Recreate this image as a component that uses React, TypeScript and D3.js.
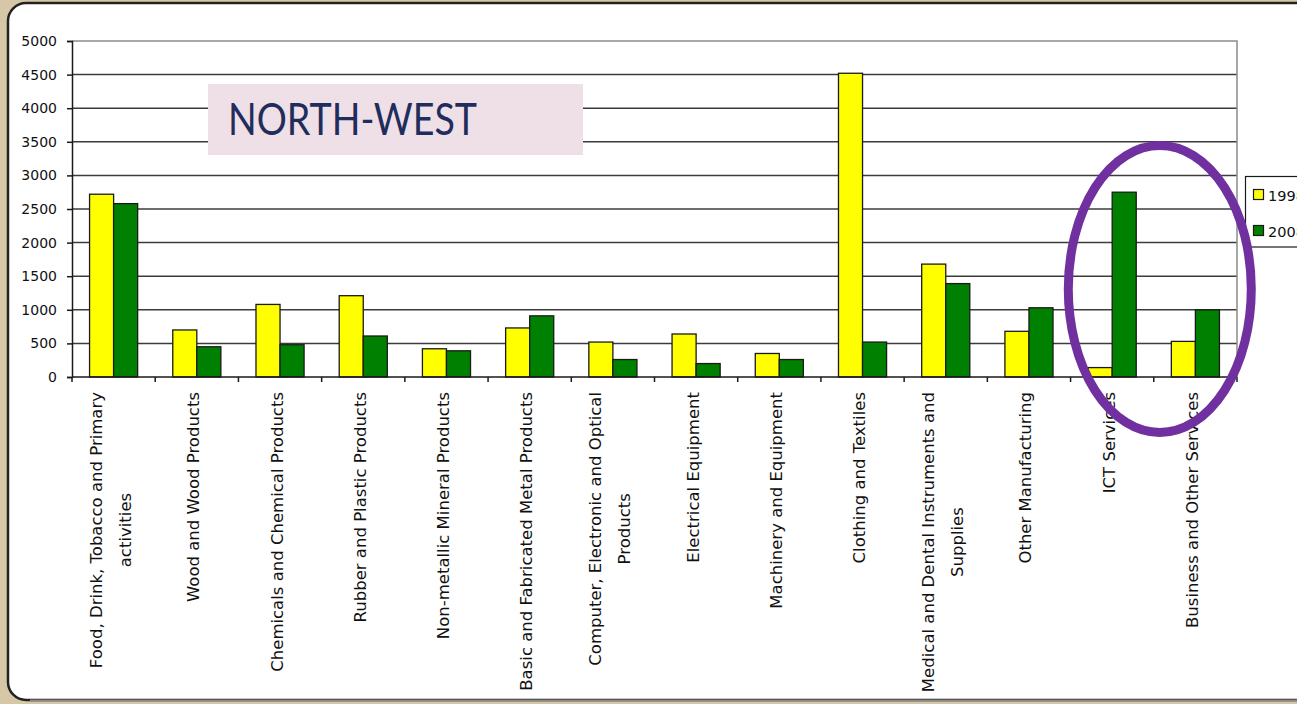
import React, { useEffect, useRef } from "react";
import * as d3 from "d3";

// values
const categories = [
  ["Food, Drink, Tobacco and Primary", "activities"],
  ["Wood and Wood Products"],
  ["Chemicals and Chemical Products"],
  ["Rubber and Plastic Products"],
  ["Non-metallic Mineral Products"],
  ["Basic and Fabricated Metal Products"],
  ["Computer, Electronic and Optical", "Products"],
  ["Electrical Equipment"],
  ["Machinery and Equipment"],
  ["Clothing and Textiles"],
  ["Medical and Dental Instruments and", "Supplies"],
  ["Other Manufacturing"],
  ["ICT Services"],
  ["Business and Other Services"],
];
const series = ["1998", "2008"];
const seriesColors = ["#ffff00", "#008000"];
const values1998 = [2720, 700, 1080, 1210, 420, 730, 520, 640, 350, 4520, 1680, 680, 140, 530];
const values2008 = [2580, 450, 480, 610, 390, 910, 260, 200, 260, 520, 1390, 1030, 2750, 1000];
const yTicks = [0, 500, 1000, 1500, 2000, 2500, 3000, 3500, 4000, 4500, 5000];
const title = "NORTH-WEST";

const W = 1297, H = 704;

export default function App() {
  const ref = useRef<SVGSVGElement>(null);

  useEffect(() => {
    const svg = d3.select(ref.current);
    svg.selectAll("*").remove();

    const left = 72, right = 1237, top = 41, bottom = 377;
    const keys = categories.map((c, i) => String(i));
    const labelSize = 16.5;

    // frame
    svg.append("rect").attr("width", W).attr("height", H).attr("fill", "#d6c8a6");
    svg.append("rect")
      .attr("x", 8).attr("y", 3).attr("width", W + 40).attr("height", 697)
      .attr("rx", 18).attr("fill", "#ffffff")
      .attr("stroke", "#222").attr("stroke-width", 2.5);
    svg.append("line").attr("x1", 30).attr("x2", W).attr("y1", 700.5).attr("y2", 700.5)
      .attr("stroke", "#8a8a8a").attr("stroke-width", 2);

    const x = d3.scaleBand().domain(keys).range([left, right]).padding(0);
    const x1 = d3.scaleBand().domain(series).range([0, x.bandwidth()]).paddingInner(0).paddingOuter(0.73);
    const y = d3.scaleLinear().domain([0, 5000]).range([bottom, top]);

    // gridlines
    svg.append("g").selectAll("line").data(yTicks.filter(t => t > 0 && t < 5000)).join("line")
      .attr("x1", left).attr("x2", right)
      .attr("y1", d => y(d)).attr("y2", d => y(d))
      .attr("stroke", "#3c3c3c").attr("stroke-width", 1.5);

    // plot border (top and right)
    svg.append("path")
      .attr("d", `M${left},${top}H${right}V${bottom}`)
      .attr("fill", "none").attr("stroke", "#8c8c8c").attr("stroke-width", 1.5);

    // bars
    const data = [values1998, values2008];
    const g = svg.append("g");
    keys.forEach((k, i) => {
      series.forEach((s, j) => {
        const v = data[j][i];
        g.append("rect")
          .attr("x", x(k)! + x1(s)!)
          .attr("y", y(v))
          .attr("width", x1.bandwidth())
          .attr("height", y(0) - y(v))
          .attr("fill", seriesColors[j])
          .attr("stroke", "#1a1a1a").attr("stroke-width", 1.3);
      });
    });

    // y axis
    const yAxis = svg.append("g").attr("transform", `translate(${left},0)`)
      .call(d3.axisLeft(y).tickValues(yTicks).tickSize(5).tickPadding(10).tickFormat(d3.format("d")));
    yAxis.select(".domain").attr("stroke", "#1a1a1a").attr("stroke-width", 1.5);
    yAxis.selectAll(".tick line").attr("stroke", "#1a1a1a").attr("stroke-width", 1.5);
    yAxis.selectAll(".tick text").attr("font-family", "DejaVu Sans").attr("font-size", 14).attr("fill", "#111");

    // x axis
    const xAxis = svg.append("g").attr("transform", `translate(0,${bottom})`);
    xAxis.append("line").attr("x1", left).attr("x2", right).attr("stroke", "#1a1a1a").attr("stroke-width", 1.5);
    xAxis.selectAll("line.tk").data(d3.range(keys.length + 1)).join("line").attr("class", "tk")
      .attr("x1", i => left + i * x.step()).attr("x2", i => left + i * x.step())
      .attr("y1", 0).attr("y2", 5)
      .attr("stroke", "#1a1a1a").attr("stroke-width", 1.5);

    // rotated category labels, lines centred on the longest (first) one
    keys.forEach((k, i) => {
      const lines = categories[i];
      const cx = x(k)! + x.bandwidth() / 2;
      const n = lines.length;
      const t = svg.append("text")
        .attr("font-family", "DejaVu Sans").attr("font-size", labelSize).attr("fill", "#111")
        .attr("text-anchor", "middle").attr("transform", "rotate(-90)");
      const probe = svg.append("text").attr("font-family", "DejaVu Sans").attr("font-size", labelSize).text(lines[0]);
      const len = (probe.node() as SVGTextElement).getComputedTextLength();
      probe.remove();
      const midY = 392 + len / 2;
      lines.forEach((ln, li) => {
        t.append("tspan")
          .attr("x", -midY)
          .attr("y", cx + 2.5 + (li - (n - 1) / 2) * 29)
          .text(ln);
      });
    });

    // title box
    svg.append("rect").attr("x", 208).attr("y", 84).attr("width", 375).attr("height", 71).attr("fill", "#efdfe6");
    svg.append("text").attr("x", 228).attr("y", 135)
      .attr("font-family", "Lato").attr("font-size", 44).attr("fill", "#1f2d5c")
      .attr("textLength", 249).attr("lengthAdjust", "spacingAndGlyphs")
      .text(title);

    // legend
    const lg = svg.append("g");
    lg.append("rect").attr("x", 1245.5).attr("y", 176.5).attr("width", 80).attr("height", 70.5)
      .attr("fill", "#fff").attr("stroke", "#1a1a1a").attr("stroke-width", 1.2);
    series.forEach((s, j) => {
      const yy = 189 + j * 36;
      lg.append("rect").attr("x", 1253.5).attr("y", yy + 0.5).attr("width", 10).attr("height", 10)
        .attr("fill", seriesColors[j]).attr("stroke", "#1a1a1a").attr("stroke-width", 1.2);
      lg.append("text").attr("x", 1268).attr("y", yy + 11.5)
        .attr("font-family", "DejaVu Sans").attr("font-size", 14.5).attr("fill", "#111").text(s);
    });

    // highlight ellipse
    svg.append("ellipse").attr("cx", x("13")! + 6).attr("cy", 289).attr("rx", 91.5).attr("ry", 143.5)
      .attr("fill", "none").attr("stroke", "#7030a0").attr("stroke-width", 9);
  }, []);

  return (
    <div style={{ position: "absolute", left: 0, top: 0 }}>
      <svg ref={ref} width={W} height={H} style={{ display: "block" }} />
    </div>
  );
}
